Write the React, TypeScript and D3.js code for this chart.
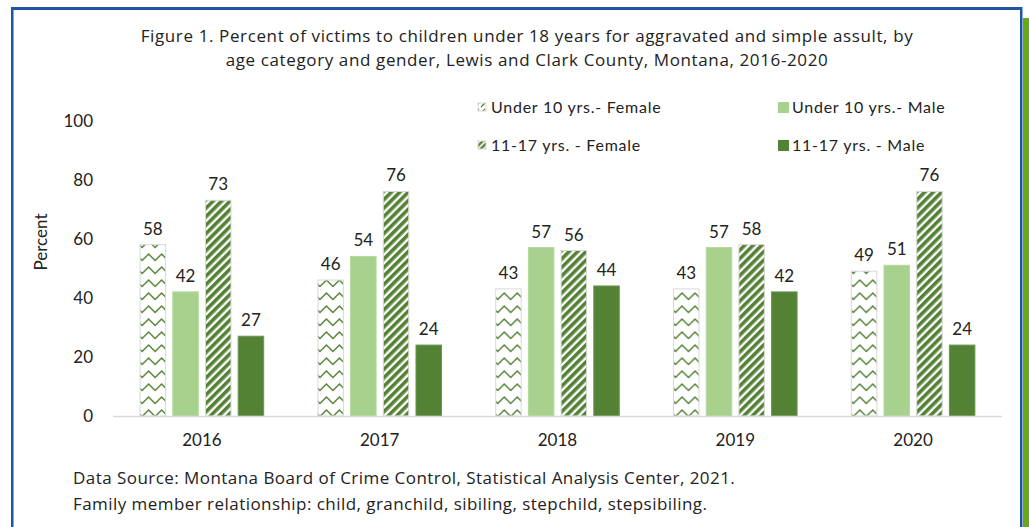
import React from "react";
import * as d3 from "d3";

const years = ["2016", "2017", "2018", "2019", "2020"];
const seriesNames = [
  "Under 10 yrs.- Female",
  "Under 10 yrs.- Male",
  "11-17 yrs. - Female",
  "11-17 yrs. - Male",
];
const under10Female = [58, 46, 43, 43, 49];
const under10Male = [42, 54, 57, 57, 51];
const teenFemale = [73, 76, 56, 58, 76];
const teenMale = [27, 24, 44, 42, 24];
const yTicks = [0, 20, 40, 60, 80, 100];
const titleLines = [
  "Figure 1. Percent of victims to children under 18 years for aggravated and simple assult, by",
  "age category and gender, Lewis and Clark County, Montana, 2016-2020",
];
const footLines = [
  "Data Source: Montana Board of Crime Control, Statistical Analysis Center, 2021.",
  "Family member relationship: child, granchild, sibiling, stepchild, stepsibiling.",
];

const FONT = "Lato, 'Open Sans', sans-serif";
const TFONT = "'Open Sans', Lato, sans-serif";
const DARK = "#548235";
const LIGHT = "#A9D18E";
const fills = ["url(#zig)", LIGHT, "url(#diag)", DARK];
const strokes = ["#d9d9d9", "#b5d99c", "#d9d9d9", "#6a9650"];

export default function App() {
  const W = 1029;
  const H = 527;
  const x0 = d3.scaleBand<string>().domain(years).range([113, 1002]).paddingInner(0.305).paddingOuter(0.1525);
  const x1 = d3.scaleBand<number>().domain([0, 1, 2, 3]).range([0, x0.bandwidth()]).paddingInner(0.22);
  const y = d3.scaleLinear().domain([0, 100]).range([416, 120.5]);
  const data = [under10Female, under10Male, teenFemale, teenMale];

  const legend = [
    { i: 0, x: 477, y: 107 },
    { i: 1, x: 778, y: 107 },
    { i: 2, x: 477, y: 145 },
    { i: 3, x: 778, y: 145 },
  ];

  return (
    <svg width={W} height={H} style={{ position: "absolute", left: 0, top: 0, background: "#fff" }}>
      <defs>
        <pattern id="zig" patternUnits="userSpaceOnUse" width="13" height="13" x="2" y="4">
          <rect width="13" height="13" fill="#fff" />
          <path d="M-1,10.5 L6.5,3 L14,10.5" stroke={DARK} strokeWidth="1.5" fill="none" />
        </pattern>
        <pattern id="diag" patternUnits="userSpaceOnUse" width="6" height="6" patternTransform="rotate(45)">
          <rect width="6" height="6" fill="#fff" />
          <rect x="0" y="0" width="3.6" height="6" fill={DARK} />
        </pattern>
        <pattern id="zigS" patternUnits="userSpaceOnUse" width="6" height="6">
          <rect width="6" height="6" fill="#fff" />
          <path d="M1,5 L5,1" stroke={DARK} strokeWidth="1.2" />
        </pattern>
        <pattern id="diagS" patternUnits="userSpaceOnUse" width="4" height="4" patternTransform="rotate(45)">
          <rect width="4" height="4" fill="#fff" />
          <rect width="2.4" height="4" fill={DARK} />
        </pattern>
      </defs>

      {/* frame */}
      <rect x={11} y={7} width={1011} height={3} fill="#1F56A3" />
      <rect x={11} y={7} width={2.5} height={H} fill="#1F56A3" />
      <rect x={1020} y={7} width={2.5} height={H} fill="#1F56A3" />
      <rect x={1023} y={18} width={6} height={H} fill="#68AA14" />

      {/* title */}
      {titleLines.map((t, i) => (
        <text key={i} x={527} y={42 + i * 24} textAnchor="middle" fontFamily={TFONT} fontSize={17} letterSpacing={0.62} fill="#222">
          {t}
        </text>
      ))}

      {/* legend */}
      {legend.map((l) => (
        <g key={l.i}>
          {l.i % 2 === 0 ? (
            <rect x={l.x + 1} y={l.y - 4} width={8} height={8} fill={l.i === 0 ? "url(#zigS)" : "url(#diagS)"} stroke="#d9d9d9" strokeWidth={1} />
          ) : (
            <rect x={l.x} y={l.y - 5} width={11} height={11} fill={data[l.i] === teenMale ? DARK : LIGHT} />
          )}
          <text x={l.x + 14} y={l.y + 6} fontFamily={FONT} fontSize={16} letterSpacing={0.75} fill="#222">
            {seriesNames[l.i]}
          </text>
        </g>
      ))}

      {/* y axis */}
      {yTicks.map((t) => (
        <text key={t} x={93} y={y(t) + 6} textAnchor="end" fontFamily={FONT} fontSize={17} fill="#222">
          {t}
        </text>
      ))}
      <text transform="translate(47,242) rotate(-90)" textAnchor="middle" fontFamily={FONT} fontSize={17} fill="#222">
        Percent
      </text>

      {/* bars */}
      {years.map((yr, gi) => (
        <g key={yr} transform={`translate(${x0(yr)},0)`}>
          {data.map((s, si) => {
            const bx = x1(si)!;
            const bw = x1.bandwidth();
            const top = y(s[gi]);
            return (
              <g key={si}>
                <rect x={bx} y={top} width={bw} height={y(0) - top} fill={fills[si]} stroke={strokes[si]} strokeWidth={1} />
                <text x={bx + bw / 2} y={top - 10} textAnchor="middle" fontFamily={FONT} fontSize={17} fill="#222">
                  {s[gi]}
                </text>
              </g>
            );
          })}
          <text x={x0.bandwidth() / 2} y={446} textAnchor="middle" fontFamily={FONT} fontSize={17} fill="#222">
            {yr}
          </text>
        </g>
      ))}
      <line x1={113} x2={1002} y1={416.5} y2={416.5} stroke="#d9d9d9" strokeWidth={1.5} />

      {/* footnote */}
      {footLines.map((t, i) => (
        <text key={i} x={73} y={484 + i * 26} fontFamily={TFONT} fontSize={17} letterSpacing={0.45} fill="#222">
          {t}
        </text>
      ))}
    </svg>
  );
}
